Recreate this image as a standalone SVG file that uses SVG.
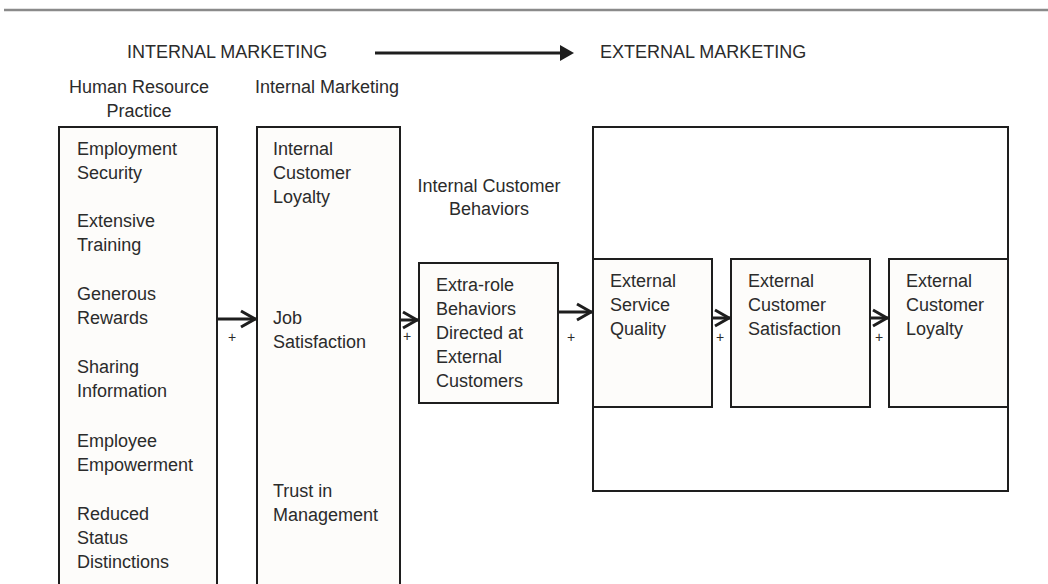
<svg xmlns="http://www.w3.org/2000/svg" width="1048" height="584" viewBox="0 0 1048 584">
  <style>
    .t { font-family: "Liberation Sans", Arial, sans-serif; font-size: 18px; fill: #2b2b2b; }
    .c { text-anchor: middle; }
    .plus { font-family: "Liberation Sans", Arial, sans-serif; font-size: 14px; fill: #2b2b2b; text-anchor: middle; }
    .box { fill: #fdfcfa; stroke: #1e1e1e; stroke-width: 2; }
    .frame { fill: #ffffff; stroke: #1e1e1e; stroke-width: 2; }
    .link { stroke: #1e1e1e; stroke-width: 3; fill: none; marker-end: url(#chev); }
  </style>
  <defs>
    <marker id="chev" viewBox="-18 -10 20 20" refX="0" refY="0" markerWidth="20" markerHeight="20" orient="auto" markerUnits="userSpaceOnUse">
      <path d="M-15,-8 L-1,0 L-15,8" fill="none" stroke="#1e1e1e" stroke-width="3"/>
    </marker>
    <marker id="tri" viewBox="0 0 14 16" refX="0" refY="8" markerWidth="14" markerHeight="16" orient="auto" markerUnits="userSpaceOnUse">
      <path d="M0,0 L14,8 L0,16 Z" fill="#1e1e1e"/>
    </marker>
  </defs>

  <rect width="1048" height="584" fill="#ffffff"/>

  <!-- rule across the top -->
  <line x1="4" y1="10" x2="1048" y2="10" stroke="#8a8a8a" stroke-width="2.5"/>

  <!-- section headings -->
  <g id="headings">
    <text class="t" x="127" y="58">INTERNAL MARKETING</text>
    <line x1="375" y1="53" x2="560" y2="53" stroke="#1e1e1e" stroke-width="3" marker-end="url(#tri)"/>
    <text class="t" x="600" y="58">EXTERNAL MARKETING</text>
    <text class="t c" x="139" y="93">Human Resource</text>
    <text class="t c" x="139" y="117">Practice</text>
    <text class="t" x="255" y="93">Internal Marketing</text>
    <text class="t c" x="489" y="192">Internal Customer</text>
    <text class="t c" x="489" y="215">Behaviors</text>
  </g>

  <!-- human resource practices -->
  <g id="hr-practice">
    <rect class="box" x="59" y="127" width="158" height="480"/>
    <text class="t" x="77" y="155">Employment</text>
    <text class="t" x="77" y="179">Security</text>
    <text class="t" x="77" y="227">Extensive</text>
    <text class="t" x="77" y="251">Training</text>
    <text class="t" x="77" y="300">Generous</text>
    <text class="t" x="77" y="324">Rewards</text>
    <text class="t" x="77" y="373">Sharing</text>
    <text class="t" x="77" y="397">Information</text>
    <text class="t" x="77" y="447">Employee</text>
    <text class="t" x="77" y="471">Empowerment</text>
    <text class="t" x="77" y="520">Reduced</text>
    <text class="t" x="77" y="544">Status</text>
    <text class="t" x="77" y="568">Distinctions</text>
  </g>

  <!-- internal marketing outcomes -->
  <g id="internal-marketing">
    <rect class="box" x="257" y="127" width="143" height="480"/>
    <text class="t" x="273" y="155">Internal</text>
    <text class="t" x="273" y="179">Customer</text>
    <text class="t" x="273" y="203">Loyalty</text>
    <text class="t" x="273" y="324">Job</text>
    <text class="t" x="273" y="348">Satisfaction</text>
    <text class="t" x="273" y="497">Trust in</text>
    <text class="t" x="273" y="521">Management</text>
  </g>

  <!-- internal customer behaviors -->
  <g id="extra-role">
    <rect class="box" x="419" y="263" width="139" height="140"/>
    <text class="t" x="436" y="291">Extra-role</text>
    <text class="t" x="436" y="315">Behaviors</text>
    <text class="t" x="436" y="339">Directed at</text>
    <text class="t" x="436" y="363">External</text>
    <text class="t" x="436" y="387">Customers</text>
  </g>

  <!-- external marketing frame -->
  <g id="external-marketing">
    <rect class="frame" x="593" y="127" width="415" height="364"/>
  </g>

  <g id="service-quality">
    <rect class="box" x="593" y="259" width="119" height="148"/>
    <text class="t" x="610" y="287">External</text>
    <text class="t" x="610" y="311">Service</text>
    <text class="t" x="610" y="335">Quality</text>
  </g>

  <g id="customer-satisfaction">
    <rect class="box" x="731" y="259" width="139" height="148"/>
    <text class="t" x="748" y="287">External</text>
    <text class="t" x="748" y="311">Customer</text>
    <text class="t" x="748" y="335">Satisfaction</text>
  </g>

  <g id="customer-loyalty">
    <rect class="box" x="889" y="259" width="119" height="148"/>
    <text class="t" x="906" y="287">External</text>
    <text class="t" x="906" y="311">Customer</text>
    <text class="t" x="906" y="335">Loyalty</text>
  </g>

  <!-- positive links between stages -->
  <g id="connectors">
    <line class="link" x1="217" y1="319" x2="256" y2="319"/>
    <text class="plus" x="232" y="342">+</text>
    <line class="link" x1="400" y1="320" x2="418" y2="320"/>
    <text class="plus" x="407" y="341">+</text>
    <line class="link" x1="558" y1="312" x2="592" y2="312"/>
    <text class="plus" x="571" y="342">+</text>
    <line class="link" x1="712" y1="318" x2="730" y2="318"/>
    <text class="plus" x="720" y="342">+</text>
    <line class="link" x1="870" y1="318" x2="888" y2="318"/>
    <text class="plus" x="879" y="342">+</text>
  </g>
</svg>
